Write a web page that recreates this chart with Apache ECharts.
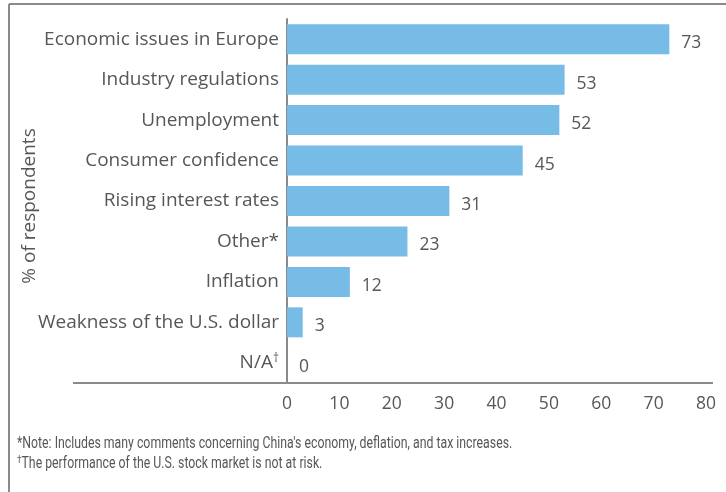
<!DOCTYPE html>
<html>
<head>
<meta charset="utf-8">
<script src="https://cdn.jsdelivr.net/npm/echarts@6/dist/echarts.min.js"></script>
<style>
html,body{margin:0;padding:0;background:#fff;}
#chart{width:726px;height:492px;}
</style>
</head>
<body>
<div id="chart"></div>
<script>
var categories = ["Economic issues in Europe","Industry regulations","Unemployment","Consumer confidence","Rising interest rates","Other*","Inflation","Weakness of the U.S. dollar","N/A\u2020"];
var values = [73, 53, 52, 45, 31, 23, 12, 3, 0];
var axisName = "% of respondents";
var notes = ["*Note: Includes many comments concerning China's economy, deflation, and tax increases.", "\u2020The performance of the U.S. stock market is not at risk."];

var textColor = "#575757";
var lineColor = "#8a8a8a";
var font = "'Open Sans', sans-serif";

function supFmt(s) {
  return s.replace(/\u2020/g, '{sup|\u2020}');
}

var chart = echarts.init(document.getElementById('chart'), null, {renderer:'canvas'});
chart.setOption({
  animation: false,
  backgroundColor: '#fff',
  grid: {left: 287, right: 20, top: 19, bottom: 109, containLabel: false},
  xAxis: {
    type: 'value', min: 0, max: 80, interval: 10,
    axisLine: {show: false}, axisTick: {show: false}, splitLine: {show: false},
    axisLabel: {color: textColor, fontSize: 17.5, fontFamily: font, margin: 12}
  },
  yAxis: {
    type: 'category', data: categories, inverse: true,
    axisLine: {show: true, lineStyle: {color: lineColor, width: 2}},
    axisTick: {show: false},
    axisLabel: {
      color: textColor, fontSize: 19, fontFamily: font, margin: 8,
      formatter: function (v) { return supFmt(v); },
      rich: {sup: {fontSize: 12, fontFamily: font, color: textColor, verticalAlign: 'top', padding: [0, 0, 8, 0]}}
    },
    name: axisName, nameLocation: 'middle', nameGap: 248, nameRotate: 90,
    nameMoveOverlap: false,
    nameTextStyle: {color: textColor, fontSize: 19, fontFamily: font, padding: [0, 10, 0, 0]}
  },
  series: [{
    type: 'bar', data: values, barWidth: 30,
    itemStyle: {color: '#77bbe7'},
    label: {show: true, position: 'right', distance: 12, offset: [0, 4], color: textColor, fontSize: 17.5, fontFamily: font}
  }],
  graphic: [
    {type: 'line', shape: {x1: 73, y1: 383, x2: 713, y2: 383}, style: {stroke: lineColor, lineWidth: 2}, silent: true},
    {type: 'line', shape: {x1: 9, y1: 4, x2: 726, y2: 4}, style: {stroke: lineColor, lineWidth: 2}, silent: true},
    {type: 'line', shape: {x1: 9, y1: 4, x2: 9, y2: 492}, style: {stroke: lineColor, lineWidth: 2}, silent: true},
    {type: 'text', x: 17, y: 435, scaleX: 0.745, style: {text: notes[0], fill: textColor, font: "16.5px Roboto, sans-serif"}},
    {type: 'text', x: 17, y: 455, scaleX: 0.745, style: {
      text: supFmt(notes[1]), fill: textColor, font: "16.5px Roboto, sans-serif",
      rich: {sup: {fontSize: 11, fontFamily: 'Roboto', fill: textColor, verticalAlign: 'top', padding: [0, 0, 6, 0]}}
    }}
  ]
});
</script>
</body>
</html>
